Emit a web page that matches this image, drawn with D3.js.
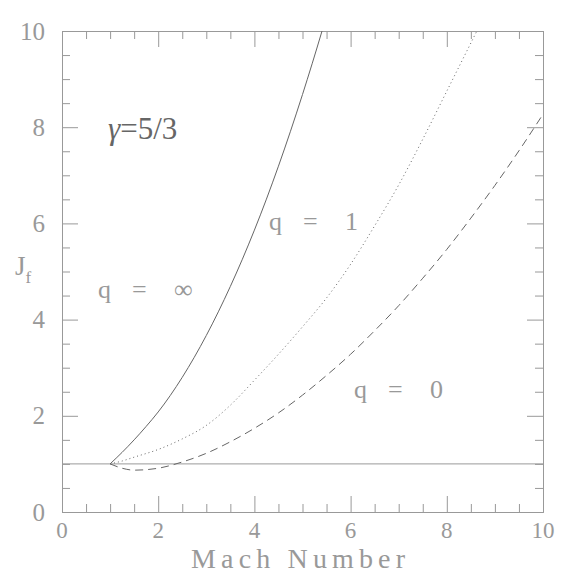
<!DOCTYPE html>
<html>
<head>
<meta charset="utf-8">
<script src="https://cdn.jsdelivr.net/npm/d3@7"></script>
<style>
  html, body { margin: 0; padding: 0; background: #fff; }
  svg { display: block; }
  text { font-family: "Liberation Serif", "DejaVu Serif", serif; }
</style>
</head>
<body>
<svg id="chart" width="574" height="574"></svg>
<script>
// ---- data ----
const machQinf = [1.0, 1.25, 1.5, 1.75, 2.0, 2.5, 3.0, 3.5, 4.0, 4.5, 5.0, 5.4, 5.5];
const jQinf    = [1.00, 1.24, 1.50, 1.78, 2.08, 2.80, 3.67, 4.69, 5.86, 7.19, 8.68, 9.98, 10.32];

const machQ1 = [1.0, 1.25, 1.5, 2.0, 2.5, 3.0, 3.5, 4.0, 4.5, 5.0, 5.5, 6.0, 6.5, 7.0, 7.5, 8.0, 8.5, 8.7];
const jQ1    = [1.00, 1.06, 1.14, 1.30, 1.52, 1.80, 2.22, 2.74, 3.28, 3.85, 4.45, 5.15, 5.95, 6.80, 7.75, 8.75, 9.75, 10.15];

const machQ0 = [1.0, 1.25, 1.5, 1.75, 2.0, 2.5, 3.0, 3.5, 4.0, 4.5, 5.0, 5.5, 6.0, 6.5, 7.0, 7.5, 8.0, 8.5, 9.0, 9.5, 10.0];
const jQ0    = [1.00, 0.91, 0.87, 0.88, 0.91, 1.04, 1.22, 1.46, 1.74, 2.06, 2.43, 2.84, 3.28, 3.77, 4.29, 4.86, 5.46, 6.11, 6.79, 7.51, 8.27];

const refLevel = [1];
const xTicks = [0, 2, 4, 6, 8, 10];
const yTicks = [0, 2, 4, 6, 8, 10];
const minorStep = 0.5;

// ---- layout ----
const svg = d3.select("#chart");
const L = 62, R = 543, T = 31, B = 512;
const x = d3.scaleLinear().domain([0, 10]).range([L, R]);
const y = d3.scaleLinear().domain([0, 10]).range([B, T]);

const axisColor = "#999";
const textColor = "#999";
const curveColor = "#666";

svg.append("defs").append("clipPath").attr("id", "plotclip")
  .append("rect").attr("x", L).attr("y", T).attr("width", R - L).attr("height", B - T);

const minorVals = d3.range(0, 10 + 1e-9, minorStep);
const isMajor = v => Math.abs(v / 2 - Math.round(v / 2)) < 1e-9;

// axes with inward ticks on four sides
function drawAxis(axis, transform) {
  const g = svg.append("g").attr("transform", transform).call(axis);
  g.select(".domain").attr("stroke", axisColor).attr("stroke-width", 1);
  g.selectAll(".tick line").attr("stroke", axisColor);
  g.selectAll(".tick text").remove();
  return g;
}
[[8, minorVals.filter(v => !isMajor(v))], [16, minorVals.filter(isMajor)]].forEach(([len, vals]) => {
  drawAxis(d3.axisBottom(x).tickValues(vals).tickSizeInner(-len).tickSizeOuter(0), `translate(0,${B})`);
  drawAxis(d3.axisTop(x).tickValues(vals).tickSizeInner(-len).tickSizeOuter(0), `translate(0,${T})`);
  drawAxis(d3.axisLeft(y).tickValues(vals).tickSizeInner(-len).tickSizeOuter(0), `translate(${L},0)`);
  drawAxis(d3.axisRight(y).tickValues(vals).tickSizeInner(-len).tickSizeOuter(0), `translate(${R},0)`);
});

// tick labels
svg.append("g").selectAll("text").data(xTicks).join("text")
  .attr("x", d => x(d)).attr("y", 538)
  .attr("text-anchor", "middle").attr("font-size", 23).attr("fill", textColor)
  .text(d => d);
svg.append("g").selectAll("text").data(yTicks).join("text")
  .attr("x", 45).attr("y", d => y(d) + 8.5)
  .attr("text-anchor", "end").attr("font-size", 25).attr("fill", textColor)
  .text(d => d);

// axis titles
svg.append("text").attr("x", 298).attr("y", 568).attr("text-anchor", "middle")
  .attr("font-size", 28).attr("fill", textColor).attr("textLength", 214).attr("lengthAdjust", "spacing")
  .text("Mach Number");
const yl = svg.append("text").attr("x", 15).attr("y", 275).attr("font-size", 27).attr("fill", textColor);
yl.append("tspan").text("J");
yl.append("tspan").attr("font-size", 17).attr("dy", 8).text("f");

// reference line J = 1
svg.append("g").selectAll("line").data(refLevel).join("line")
  .attr("x1", x(0)).attr("x2", x(10)).attr("y1", d => y(d)).attr("y2", d => y(d))
  .attr("stroke", axisColor).attr("stroke-width", 1);

// curves
const line = d3.line().x(d => x(d[0])).y(d => y(d[1])).curve(d3.curveMonotoneX);
const plot = svg.append("g").attr("clip-path", "url(#plotclip)");
plot.append("path").datum(d3.zip(machQinf, jQinf)).attr("d", line)
  .attr("fill", "none").attr("stroke", curveColor).attr("stroke-width", 1);
plot.append("path").datum(d3.zip(machQ1, jQ1)).attr("d", line)
  .attr("fill", "none").attr("stroke", curveColor).attr("stroke-width", 1)
  .attr("stroke-dasharray", "1,3");
plot.append("path").datum(d3.zip(machQ0, jQ0)).attr("d", line)
  .attr("fill", "none").attr("stroke", curveColor).attr("stroke-width", 1)
  .attr("stroke-dasharray", "8,5");

// annotations
const gam = svg.append("text").attr("x", 108).attr("y", 139).attr("font-size", 31).attr("fill", "#666");
gam.append("tspan").attr("font-style", "italic").text("γ");
gam.append("tspan").text("=5/3");
function qLabel(x0, base, val) {
  const g = svg.append("g").attr("fill", textColor).attr("font-size", 26);
  g.append("text").attr("x", x0).attr("y", base).text("q");
  g.append("text").attr("x", x0 + 34).attr("y", base).text("=");
  g.append("text").attr("x", x0 + 76).attr("y", base).text(val);
}
qLabel(98, 298, "∞");
qLabel(269, 230, "1");
qLabel(354, 398, "0");
</script>
</body>
</html>
